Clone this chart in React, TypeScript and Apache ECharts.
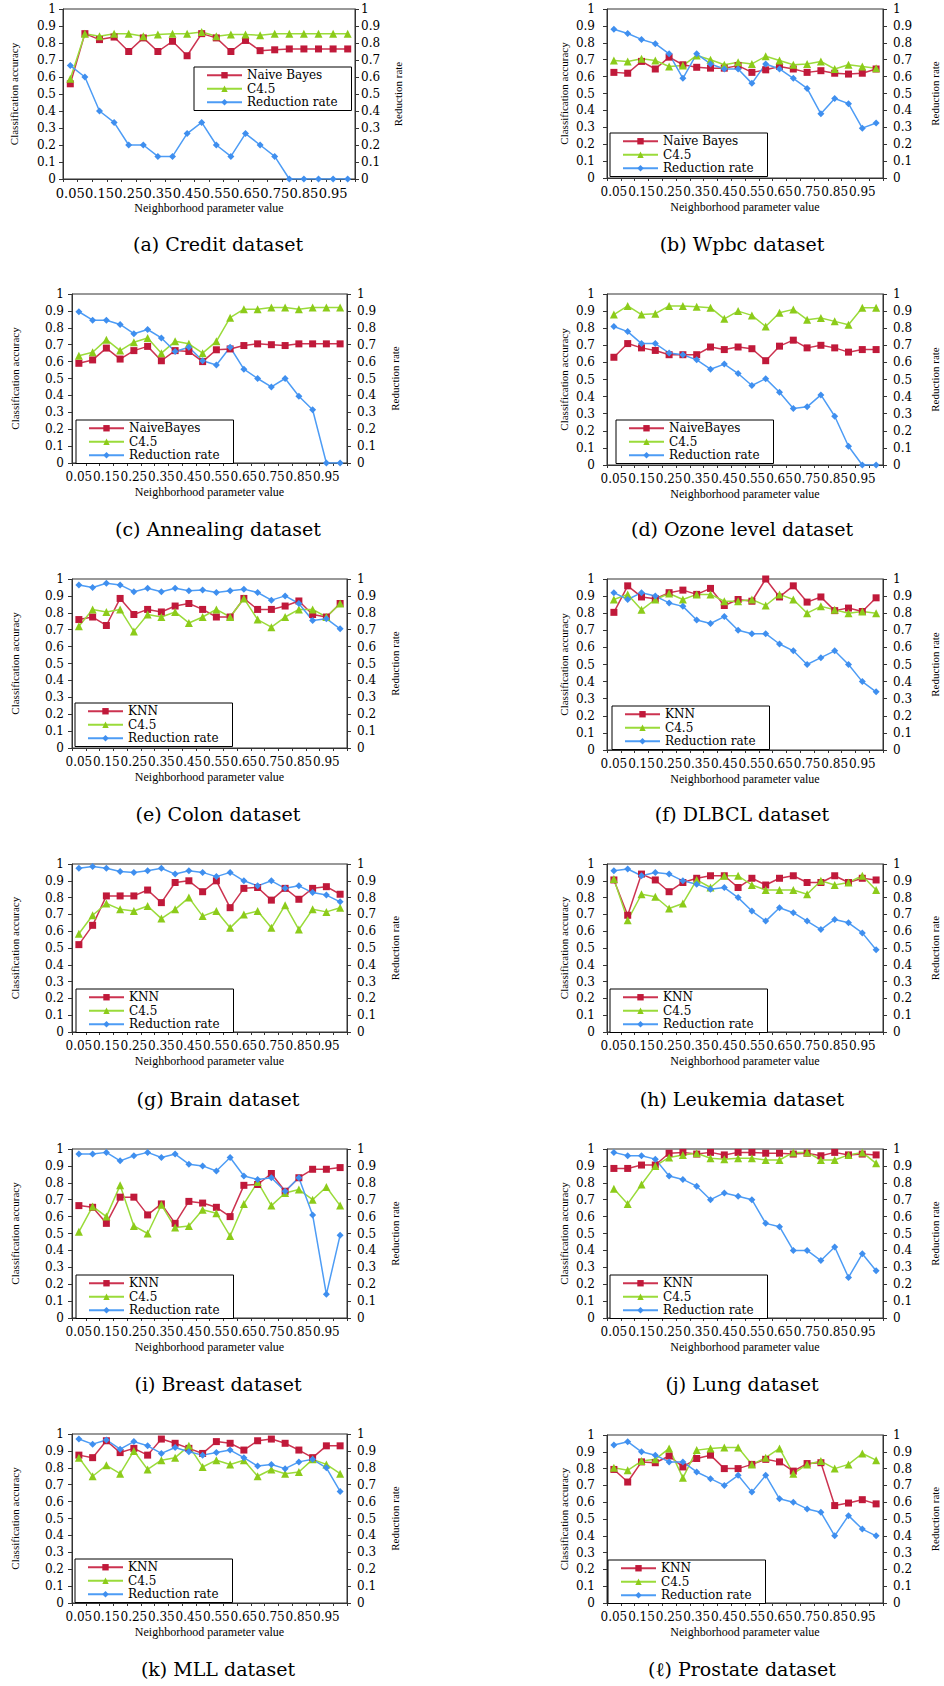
import React, { useEffect, useRef } from "react";
import * as echarts from "echarts";

const categories = ["0.05","0.1","0.15","0.2","0.25","0.3","0.35","0.4","0.45","0.5","0.55","0.6","0.65","0.7","0.75","0.8","0.85","0.9","0.95","1"];

const captions = [
  "(a) Credit dataset", "(b) Wpbc dataset",
  "(c) Annealing dataset", "(d) Ozone level dataset",
  "(e) Colon dataset", "(f) DLBCL dataset",
  "(g) Brain dataset", "(h) Leukemia dataset",
  "(i) Breast dataset", "(j) Lung dataset",
  "(k) MLL dataset", "(\u2113) Prostate dataset",
];

const classifierNames = ["Naive Bayes","Naive Bayes","NaiveBayes","NaiveBayes","KNN","KNN","KNN","KNN","KNN","KNN","KNN","KNN"];
const c45Name = "C4.5";
const rrName = "Reduction rate";

// (a) Credit
const creditCls = [0.56,0.855,0.82,0.835,0.75,0.83,0.75,0.81,0.725,0.855,0.83,0.75,0.815,0.755,0.76,0.765,0.765,0.765,0.765,0.765];
const creditC45 = [0.59,0.855,0.84,0.855,0.855,0.84,0.85,0.855,0.855,0.865,0.84,0.85,0.85,0.845,0.855,0.855,0.855,0.855,0.855,0.855];
const creditRR = [0.667,0.6,0.4,0.333,0.2,0.2,0.133,0.133,0.267,0.333,0.2,0.133,0.267,0.2,0.133,0,0,0,0,0];
// (b) Wpbc
const wpbcCls = [0.625,0.62,0.69,0.645,0.715,0.67,0.655,0.65,0.65,0.665,0.625,0.64,0.66,0.645,0.625,0.635,0.62,0.615,0.62,0.645];
const wpbcC45 = [0.695,0.69,0.705,0.695,0.66,0.665,0.725,0.70,0.67,0.685,0.675,0.72,0.695,0.67,0.675,0.69,0.645,0.67,0.66,0.65];
const wpbcRR = [0.88,0.855,0.82,0.795,0.735,0.59,0.735,0.675,0.645,0.645,0.56,0.675,0.645,0.59,0.53,0.38,0.47,0.44,0.295,0.325];
// (c) Annealing
const annealCls = [0.59,0.61,0.68,0.615,0.665,0.69,0.605,0.665,0.66,0.60,0.67,0.675,0.695,0.705,0.70,0.695,0.705,0.705,0.705,0.705];
const annealC45 = [0.635,0.655,0.73,0.665,0.715,0.74,0.65,0.72,0.705,0.65,0.72,0.86,0.91,0.91,0.92,0.92,0.91,0.92,0.92,0.92];
const annealRR = [0.895,0.845,0.845,0.82,0.765,0.79,0.74,0.66,0.685,0.605,0.58,0.685,0.555,0.50,0.45,0.50,0.395,0.315,0,0];
// (d) Ozone level
const ozoneCls = [0.63,0.71,0.685,0.67,0.645,0.645,0.645,0.69,0.675,0.69,0.68,0.61,0.695,0.73,0.685,0.70,0.685,0.66,0.675,0.675];
const ozoneC45 = [0.88,0.93,0.88,0.885,0.93,0.93,0.925,0.92,0.855,0.90,0.875,0.81,0.89,0.91,0.85,0.86,0.84,0.82,0.92,0.92];
const ozoneRR = [0.81,0.78,0.71,0.71,0.655,0.645,0.615,0.56,0.59,0.535,0.465,0.505,0.425,0.33,0.34,0.41,0.285,0.11,0,0];
// (e) Colon
const colonCls = [0.76,0.775,0.725,0.885,0.79,0.82,0.805,0.84,0.855,0.82,0.775,0.775,0.885,0.82,0.82,0.84,0.87,0.79,0.775,0.855];
const colonC45 = [0.72,0.82,0.805,0.82,0.69,0.79,0.775,0.805,0.74,0.775,0.82,0.775,0.885,0.76,0.715,0.775,0.82,0.82,0.775,0.855];
const colonRR = [0.965,0.95,0.975,0.965,0.925,0.945,0.925,0.945,0.93,0.935,0.92,0.93,0.94,0.92,0.875,0.90,0.855,0.755,0.765,0.705];
// (f) DLBCL
const dlbclCls = [0.805,0.96,0.895,0.885,0.92,0.935,0.91,0.945,0.845,0.88,0.87,1.0,0.895,0.96,0.865,0.895,0.815,0.83,0.81,0.89];
const dlbclC45 = [0.88,0.91,0.82,0.88,0.915,0.88,0.91,0.91,0.87,0.87,0.88,0.845,0.91,0.88,0.80,0.84,0.82,0.80,0.81,0.80];
const dlbclRR = [0.92,0.88,0.92,0.90,0.86,0.84,0.76,0.74,0.78,0.70,0.68,0.68,0.62,0.58,0.50,0.54,0.58,0.50,0.40,0.34];
// (g) Brain
const brainCls = [0.52,0.635,0.81,0.81,0.81,0.845,0.77,0.89,0.90,0.835,0.90,0.74,0.855,0.86,0.785,0.855,0.79,0.855,0.865,0.82];
const brainC45 = [0.585,0.695,0.765,0.73,0.72,0.75,0.675,0.73,0.80,0.69,0.72,0.62,0.70,0.72,0.62,0.755,0.61,0.73,0.715,0.74];
const brainRR = [0.975,0.985,0.975,0.955,0.95,0.96,0.975,0.94,0.96,0.95,0.925,0.95,0.90,0.87,0.90,0.855,0.87,0.83,0.815,0.775];
// (h) Leukemia
const leukCls = [0.905,0.695,0.94,0.905,0.835,0.89,0.915,0.93,0.93,0.86,0.915,0.875,0.915,0.93,0.89,0.89,0.93,0.89,0.915,0.905];
const leukC45 = [0.91,0.665,0.82,0.805,0.735,0.765,0.905,0.86,0.93,0.93,0.875,0.845,0.845,0.845,0.82,0.90,0.875,0.89,0.93,0.845];
const leukRR = [0.96,0.97,0.93,0.95,0.94,0.90,0.88,0.85,0.86,0.80,0.72,0.66,0.74,0.71,0.66,0.61,0.67,0.65,0.59,0.49];
// (i) Breast
const breastCls = [0.665,0.655,0.56,0.715,0.715,0.61,0.675,0.56,0.69,0.68,0.655,0.60,0.785,0.79,0.855,0.75,0.83,0.88,0.88,0.89];
const breastC45 = [0.51,0.66,0.60,0.785,0.545,0.50,0.67,0.535,0.545,0.64,0.62,0.485,0.675,0.805,0.665,0.74,0.76,0.70,0.775,0.665];
const breastRR = [0.97,0.97,0.98,0.93,0.96,0.98,0.95,0.97,0.91,0.90,0.87,0.95,0.84,0.82,0.83,0.75,0.83,0.61,0.14,0.49];
// (j) Lung
const lungCls = [0.885,0.885,0.905,0.905,0.975,0.98,0.97,0.98,0.965,0.98,0.98,0.975,0.975,0.97,0.975,0.96,0.98,0.965,0.97,0.965];
const lungC45 = [0.765,0.675,0.79,0.90,0.95,0.965,0.975,0.945,0.94,0.945,0.945,0.935,0.935,0.98,0.98,0.935,0.935,0.965,0.98,0.915];
const lungRR = [0.98,0.96,0.96,0.94,0.84,0.82,0.78,0.70,0.74,0.72,0.70,0.56,0.54,0.40,0.40,0.34,0.42,0.24,0.38,0.28];
// (k) MLL
const mllCls = [0.875,0.86,0.96,0.89,0.915,0.875,0.97,0.945,0.915,0.885,0.955,0.945,0.905,0.96,0.97,0.945,0.905,0.86,0.93,0.93];
const mllC45 = [0.86,0.75,0.815,0.765,0.90,0.79,0.845,0.86,0.93,0.805,0.845,0.82,0.845,0.75,0.79,0.765,0.775,0.85,0.82,0.765];
const mllRR = [0.97,0.94,0.965,0.91,0.955,0.93,0.885,0.92,0.895,0.875,0.89,0.905,0.86,0.81,0.82,0.795,0.835,0.85,0.80,0.66];
// (l) Prostate
const prostCls = [0.795,0.72,0.84,0.835,0.875,0.81,0.86,0.88,0.80,0.80,0.825,0.855,0.84,0.785,0.83,0.835,0.58,0.595,0.615,0.59];
const prostC45 = [0.805,0.79,0.845,0.855,0.92,0.745,0.91,0.92,0.925,0.925,0.825,0.865,0.92,0.77,0.825,0.845,0.80,0.825,0.89,0.85];
const prostRR = [0.94,0.96,0.90,0.88,0.84,0.84,0.78,0.74,0.70,0.76,0.66,0.76,0.62,0.60,0.56,0.54,0.40,0.52,0.44,0.40];

const clsSeries = [creditCls, wpbcCls, annealCls, ozoneCls, colonCls, dlbclCls, brainCls, leukCls, breastCls, lungCls, mllCls, prostCls];
const c45Series = [creditC45, wpbcC45, annealC45, ozoneC45, colonC45, dlbclC45, brainC45, leukC45, breastC45, lungC45, mllC45, prostC45];
const rrSeries = [creditRR, wpbcRR, annealRR, ozoneRR, colonRR, dlbclRR, brainRR, leukRR, breastRR, lungRR, mllRR, prostRR];

// layout (pixels)
type Layout = { l: number; r: number; t: number; b: number; lgL: number; lgT: number; capX: number; capY: number; gapL: number; gapR: number; mL: number; mR: number; xfs: number };
const LEFT_COL = { l: 72, r: 347, capX: 218, gapL: 52, gapR: 42, mL: 8, mR: 10, xfs: 12 };
const RIGHT_COL = { l: 607, r: 883, capX: 742, gapL: 38, gapR: 46, mL: 12, mR: 10, xfs: 12 };
const layouts: Layout[] = [
  { l: 63, r: 355, t: 9, b: 179, lgL: 194, lgT: 67, capX: 218, capY: 244, gapL: 44, gapR: 37, mL: 7, mR: 6, xfs: 13 },
  { ...RIGHT_COL, t: 9, b: 178, lgL: 610, lgT: 133, capY: 244 },
  { ...LEFT_COL, t: 294, b: 463, lgL: 76, lgT: 420, capY: 529 },
  { ...RIGHT_COL, t: 294, b: 465, lgL: 616, lgT: 420, capY: 529 },
  { ...LEFT_COL, t: 579, b: 748, lgL: 75, lgT: 703, capY: 814 },
  { ...RIGHT_COL, t: 579, b: 750, lgL: 612, lgT: 706, capY: 814 },
  { ...LEFT_COL, t: 864, b: 1032, lgL: 76, lgT: 989, capY: 1099 },
  { ...RIGHT_COL, t: 864, b: 1032, lgL: 610, lgT: 989, capY: 1099 },
  { ...LEFT_COL, t: 1149, b: 1318, lgL: 76, lgT: 1275, capY: 1384 },
  { ...RIGHT_COL, t: 1149, b: 1318, lgL: 610, lgT: 1275, capY: 1384 },
  { ...LEFT_COL, t: 1434, b: 1603, lgL: 75, lgT: 1559, capY: 1669 },
  { ...RIGHT_COL, t: 1435, b: 1603, lgL: 608, lgT: 1560, capY: 1669 },
];

const RED = "#C0193A";
const RED_LINE = "#CC3350";
const GREEN = "#8CCB1A";
const GREEN_LINE = "#9ADB3A";
const BLUE = "#3F8FEF";
const BLUE_LINE = "#4D9CF5";
const SERIF_W = "DejaVu Serif";
const SERIF = "Liberation Serif";

function buildOption() {
  const grid: any[] = [];
  const xAxis: any[] = [];
  const yAxis: any[] = [];
  const series: any[] = [];
  const legend: any[] = [];
  const graphic: any[] = [];

  layouts.forEach((p, i) => {
    grid.push({
      left: p.l, top: p.t, width: p.r - p.l, height: p.b - p.t,
      show: true, borderColor: "#333", borderWidth: 1, containLabel: false,
    });
    xAxis.push({
      gridIndex: i, type: "category", data: categories, boundaryGap: true,
      name: "Neighborhood parameter value", nameLocation: "middle", nameGap: 23,
      nameTextStyle: { fontFamily: SERIF, fontSize: 12, color: "#000" },
      axisLine: { show: true, lineStyle: { color: "#333", width: 1 } },
      axisTick: { show: true, interval: 0, length: 3, lineStyle: { color: "#333" } },
      axisLabel: { interval: 1, margin: 8, fontFamily: SERIF_W, fontSize: p.xfs, color: "#000" },
      splitLine: { show: false },
    });
    const yBase = {
      gridIndex: i, type: "value", min: 0, max: 1, interval: 0.1,
      nameLocation: "middle", nameRotate: 90,
      nameTextStyle: { fontFamily: SERIF, fontSize: 11, color: "#000" },
      axisLine: { show: true, lineStyle: { color: "#333", width: 1 } },
      axisTick: { show: true, length: 4, lineStyle: { color: "#333" } },
      splitLine: { show: false },
    };
    yAxis.push({
      ...yBase, position: "left", name: "Classification accuracy", nameGap: p.gapL,
      axisLabel: { margin: p.mL, fontFamily: SERIF_W, fontSize: 12, color: "#000" },
    });
    yAxis.push({
      ...yBase, position: "right", name: "Reduction rate", nameGap: p.gapR,
      axisLabel: { margin: p.mR, fontFamily: SERIF_W, fontSize: 12, color: "#000" },
    });
    const common = { type: "line", xAxisIndex: i, showSymbol: true, animation: false };
    series.push({
      ...common, name: classifierNames[i], yAxisIndex: 2 * i, data: clsSeries[i],
      symbol: "rect", symbolSize: 7, itemStyle: { color: RED }, lineStyle: { color: RED_LINE, width: 1.5 },
    });
    series.push({
      ...common, name: c45Name, yAxisIndex: 2 * i, data: c45Series[i],
      symbol: "triangle", symbolSize: 8, itemStyle: { color: GREEN }, lineStyle: { color: GREEN_LINE, width: 1.5 },
    });
    series.push({
      ...common, name: rrName, yAxisIndex: 2 * i + 1, data: rrSeries[i],
      symbol: "diamond", symbolSize: 7, itemStyle: { color: BLUE }, lineStyle: { color: BLUE_LINE, width: 1.5 },
    });
    legend.push({
      left: p.lgL, top: p.lgT, orient: "vertical",
      data: [classifierNames[i], c45Name, rrName],
      borderColor: "#000", borderWidth: 1, backgroundColor: "#fff",
      padding: [2, 14, 2, 12], itemGap: 1, itemWidth: 35, itemHeight: 8,
      selectedMode: false,
      textStyle: { fontFamily: SERIF_W, fontSize: 12, color: "#000", lineHeight: 12.5 },
    });
    graphic.push({
      type: "text", x: p.capX, y: p.capY,
      style: {
        text: captions[i], fill: "#000", font: `19px "${SERIF_W}"`,
        align: "center", verticalAlign: "middle", textAlign: "center", textVerticalAlign: "middle",
      },
    });
  });

  return { animation: false, backgroundColor: "#fff", grid, xAxis, yAxis, series, legend, graphic };
}

export default function App() {
  const ref = useRef<HTMLDivElement>(null);
  useEffect(() => {
    if (!ref.current) return;
    const chart = echarts.init(ref.current, undefined, { renderer: "svg" });
    chart.setOption(buildOption() as any);
    return () => chart.dispose();
  }, []);
  return <div ref={ref} style={{ position: "absolute", left: 0, top: 0, width: 944, height: 1686 }} />;
}
